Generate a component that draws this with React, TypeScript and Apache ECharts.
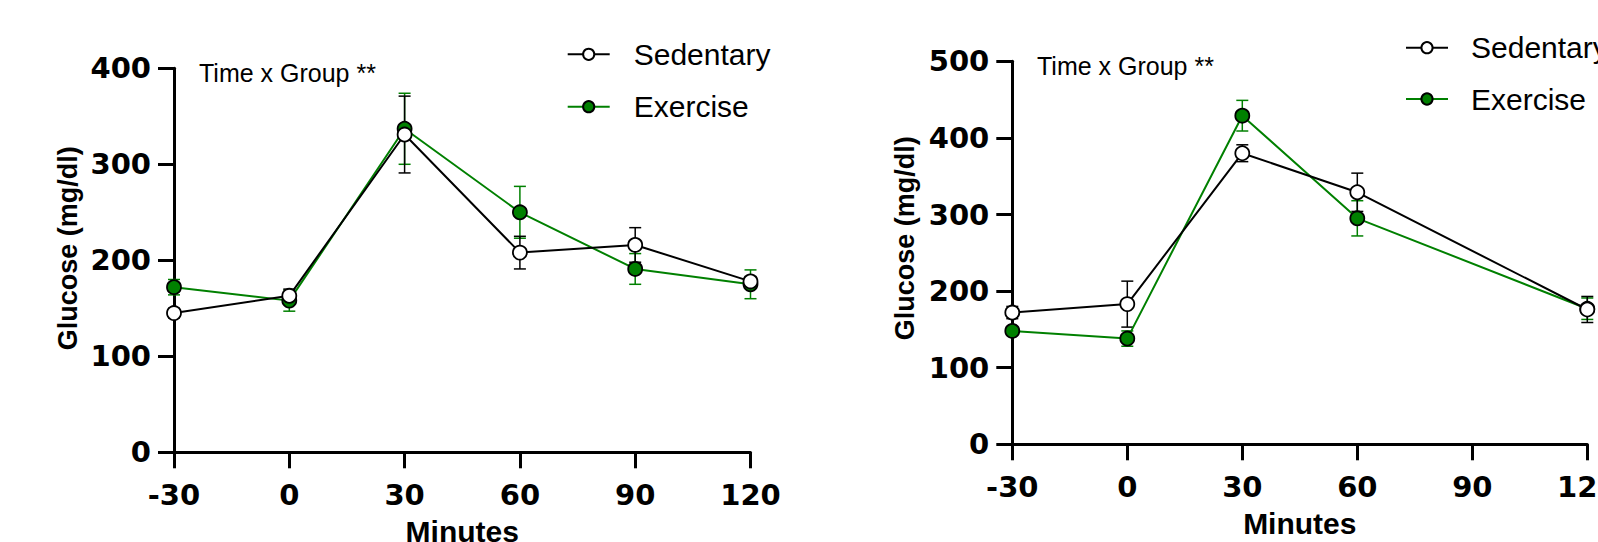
import React, { useEffect, useRef } from 'react';
import * as echarts from 'echarts';

// ---- data ----
const timesLeft = [-30, 0, 30, 60, 90, 120];
const sedLeft = [145, 163, 331, 208, 216, 178];
const sedLeftErr = [5, 7, 40, 17, 18, 5];
const exeLeft = [172, 158, 337, 250, 191, 175];
const exeLeftErr = [8, 11, 37, 27, 16, 15];

const timesRight = [-30, 0, 30, 60, 120];
const sedRight = [172, 183, 380, 329, 176];
const sedRightErr = [8, 30, 11, 25, 17];
const exeRight = [148, 138, 429, 295, 177];
const exeRightErr = [5, 10, 20, 23, 14];

const xMin = -30;
const xMax = 120;
const xStep = 30;
const yMaxLeft = 400;
const yMaxRight = 500;
const yStep = 100;
const seriesNames = ['Sedentary', 'Exercise'];
const annotationText = 'Time x Group **';
const xTitle = 'Minutes';
const yTitle = 'Glucose (mg/dl)';

// ---- styles ----
const GREEN = '#008000';
const SANS = '"Liberation Sans", Arial, Helvetica, sans-serif';
const DEJAVU = '"DejaVu Sans", Verdana, sans-serif';

function errorSeries(name: string, idx: number, times: number[], means: number[], errs: number[], color: string, z: number) {
  return {
    type: 'custom',
    name,
    xAxisIndex: idx,
    yAxisIndex: idx,
    z,
    silent: true,
    clip: false,
    encode: { x: 0, y: [1, 2] },
    data: times.map((t, i) => [t, means[i] - errs[i], means[i] + errs[i]]),
    renderItem: (_params: any, api: any) => {
      const x = api.value(0);
      const lo = api.coord([x, api.value(1)]);
      const hi = api.coord([x, api.value(2)]);
      const hw = 6;
      const style = { stroke: color, lineWidth: 1.5 };
      return {
        type: 'group',
        children: [
          { type: 'line', shape: { x1: lo[0], y1: lo[1], x2: hi[0], y2: hi[1] }, style },
          { type: 'line', shape: { x1: lo[0] - hw, y1: lo[1], x2: lo[0] + hw, y2: lo[1] }, style },
          { type: 'line', shape: { x1: hi[0] - hw, y1: hi[1], x2: hi[0] + hw, y2: hi[1] }, style },
        ],
      };
    },
  };
}

function lineSeries(name: string, idx: number, times: number[], vals: number[], color: string, fill: string, z: number) {
  return {
    type: 'line',
    name,
    xAxisIndex: idx,
    yAxisIndex: idx,
    z,
    clip: false,
    data: times.map((t, i) => [t, vals[i]]),
    symbol: 'circle',
    symbolSize: 14,
    showSymbol: true,
    lineStyle: { color, width: 2 },
    itemStyle: { color: fill, borderColor: '#000', borderWidth: 1.8 },
    emphasis: { disabled: true },
  };
}

function xAxis(gridIndex: number) {
  return {
    type: 'value',
    gridIndex,
    min: xMin,
    max: xMax,
    interval: xStep,
    name: xTitle,
    nameLocation: 'middle',
    nameGap: 64,
    nameTextStyle: { fontFamily: SANS, fontWeight: 'bold', fontSize: 30, color: '#000' },
    axisLine: { show: true, onZero: false, lineStyle: { color: '#000', width: 3 } },
    axisTick: { show: true, length: 16, lineStyle: { color: '#000', width: 3 } },
    axisLabel: { margin: 28, fontFamily: DEJAVU, fontWeight: 'bold', fontSize: 29, color: '#000' },
    splitLine: { show: false },
  };
}

function yAxis(gridIndex: number, max: number, shift: number, gap: number) {
  return {
    type: 'value',
    gridIndex,
    min: 0,
    max,
    interval: yStep,
    name: yTitle,
    nameLocation: 'middle',
    nameGap: gap,
    nameTextStyle: { fontFamily: SANS, fontWeight: 'bold', fontSize: 27, color: '#000', padding: [0, 0, 0, shift] },
    axisLine: { show: true, onZero: false, lineStyle: { color: '#000', width: 3 } },
    axisTick: { show: true, length: 16, lineStyle: { color: '#000', width: 3 } },
    axisLabel: { margin: 23, fontFamily: DEJAVU, fontWeight: 'bold', fontSize: 29, color: '#000' },
    splitLine: { show: false },
  };
}

function legend(left: number, top: number, gap: number, textPad: number) {
  return {
    data: seriesNames,
    orient: 'vertical',
    left,
    top,
    padding: 0,
    itemWidth: 42,
    itemHeight: 14,
    itemGap: gap,
    selectedMode: false,
    textStyle: { fontFamily: SANS, fontSize: 30, color: '#000', lineHeight: 30, padding: [0, 0, 0, textPad] },
  };
}

export default function App() {
  const ref = useRef<HTMLDivElement>(null);
  useEffect(() => {
    if (!ref.current) return;
    const chart = echarts.init(ref.current, undefined, { renderer: 'svg' });
    chart.setOption({
      animation: false,
      backgroundColor: '#fff',
      grid: [
        { left: 174, top: 68.3, width: 576.5, height: 384, containLabel: false, outerBoundsMode: 'none' },
        { left: 1012.3, top: 61.3, width: 575, height: 383, containLabel: false, outerBoundsMode: 'none' },
      ],
      xAxis: [xAxis(0), xAxis(1)],
      yAxis: [yAxis(0, yMaxLeft, 24, 93), yAxis(1, yMaxRight, 29, 94)],
      legend: [legend(566.7, 39.3, 22.4, 19), legend(1405, 32.7, 21.3, 18)],
      graphic: [
        { type: 'text', x: 199, y: 73, style: { text: annotationText, fontFamily: SANS, fontSize: 25, fill: '#000', verticalAlign: 'middle' } },
        { type: 'text', x: 1037, y: 66, style: { text: annotationText, fontFamily: SANS, fontSize: 25, fill: '#000', verticalAlign: 'middle' } },
      ],
      series: [
        lineSeries('Sedentary', 0, timesLeft, sedLeft, '#000', '#fff', 4),
        lineSeries('Exercise', 0, timesLeft, exeLeft, GREEN, GREEN, 3),
        lineSeries('Sedentary', 1, timesRight, sedRight, '#000', '#fff', 4),
        lineSeries('Exercise', 1, timesRight, exeRight, GREEN, GREEN, 3),
        errorSeries('Sedentary SEM', 0, timesLeft, sedLeft, sedLeftErr, '#000', 2),
        errorSeries('Exercise SEM', 0, timesLeft, exeLeft, exeLeftErr, GREEN, 1),
        errorSeries('Sedentary SEM', 1, timesRight, sedRight, sedRightErr, '#000', 2),
        errorSeries('Exercise SEM', 1, timesRight, exeRight, exeRightErr, GREEN, 1),
      ],
    });
    return () => chart.dispose();
  }, []);
  return <div ref={ref} style={{ position: 'fixed', left: 0, top: 0, width: 1598, height: 542, background: '#fff' }} />;
}
